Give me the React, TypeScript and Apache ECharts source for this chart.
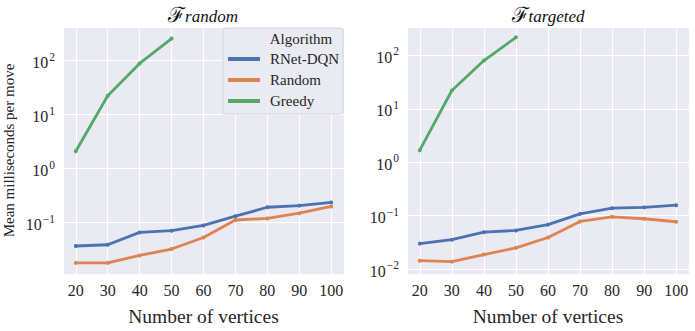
import React, { useEffect, useRef } from "react";
import * as echarts from "echarts";

const vertices = [20, 30, 40, 50, 60, 70, 80, 90, 100];
const greedyVertices = [20, 30, 40, 50];

const randomRNet = [0.037, 0.039, 0.066, 0.071, 0.089, 0.132, 0.193, 0.207, 0.237];
const randomRandom = [0.018, 0.018, 0.0247, 0.0325, 0.053, 0.112, 0.12, 0.15, 0.2];
const randomGreedy = [2.1, 22.5, 89, 257];

const targetedRNet = [0.03, 0.0355, 0.049, 0.053, 0.068, 0.108, 0.138, 0.143, 0.157];
const targetedRandom = [0.0144, 0.0138, 0.0187, 0.025, 0.039, 0.078, 0.095, 0.0875, 0.077];
const targetedGreedy = [1.68, 22, 80, 217];

const seriesNames = ["RNet-DQN", "Random", "Greedy"];
const colors = ["#4c72b0", "#dd8452", "#55a868"];

const FONT = "Liberation Serif";
const TXT = "#262626";

function pairs(xs: number[], ys: number[]) {
  return xs.map((x, i) => [x, ys[i]]);
}

export default function App() {
  const ref = useRef<HTMLDivElement>(null);
  useEffect(() => {
    if (!ref.current) return;
    const chart = echarts.init(ref.current, null, { renderer: "svg" });
    const yFormatter = (v: number) => {
      const e = Math.log10(v);
      if (Math.abs(e - Math.round(e)) > 1e-6) return "";
      const r = Math.round(e);
      return "{b|10}{s|" + (r < 0 ? "\u2212" + -r : "" + r) + "}";
    };
    const yRich = {
      b: { fontSize: 16, fontFamily: FONT, color: TXT, lineHeight: 20, verticalAlign: "bottom" as const },
      s: { fontSize: 11.5, fontFamily: FONT, color: TXT, lineHeight: 20, verticalAlign: "top" as const, padding: [0, 0, 0, 1] },
    };
    const xFormatter = (v: number) => (v % 10 === 0 && v >= 20 && v <= 100 ? String(v) : "");
    const xAxisBase = {
      type: "value" as const,
      min: 16,
      max: 104,
      splitNumber: 9,
      axisLine: { show: false },
      axisTick: { show: false },
      splitLine: { show: true, lineStyle: { color: "#ffffff", width: 1 } },
      axisLabel: { formatter: xFormatter, fontFamily: FONT, fontSize: 16, color: TXT, margin: 8 },
      name: "Number of vertices",
      nameLocation: "middle" as const,
      nameGap: 32,
      nameTextStyle: { fontFamily: FONT, fontSize: 19.5, color: TXT },
    };
    const yAxisBase = {
      type: "log" as const,
      logBase: 10,
      axisLine: { show: false },
      axisTick: { show: false },
      splitLine: { show: true, lineStyle: { color: "#ffffff", width: 1 } },
      axisLabel: { formatter: yFormatter, rich: yRich, fontFamily: FONT, margin: 8 },
    };
    const mk = (name: string, idx: number, data: number[][], color: string) => ({
      type: "line" as const,
      name,
      xAxisIndex: idx,
      yAxisIndex: idx,
      data,
      color,
      lineStyle: { color, width: 2.8 },
      itemStyle: { color },
      symbol: "circle",
      symbolSize: 4,
      showSymbol: true,
      z: 2,
    });
    const titleRich = {
      f: { fontFamily: "DejaVu Serif", fontSize: 21, fill: "#111", lineHeight: 22, verticalAlign: "bottom" as const },
      s: { fontFamily: FONT, fontStyle: "italic", fontSize: 17, fill: "#111", lineHeight: 22, verticalAlign: "bottom" as const },
    };
    chart.setOption({
      animation: false,
      backgroundColor: "#ffffff",
      textStyle: { fontFamily: FONT },
      grid: [
        { left: 62, right: 351, top: 27, bottom: 48, backgroundColor: "#eaeaf2", show: true, borderWidth: 0 },
        { left: 407, right: 6, top: 27, bottom: 48, backgroundColor: "#eaeaf2", show: true, borderWidth: 0 },
      ],
      xAxis: [
        { ...xAxisBase, gridIndex: 0 },
        { ...xAxisBase, gridIndex: 1 },
      ],
      yAxis: [
        {
          ...yAxisBase,
          gridIndex: 0,
          min: 0.0112,
          max: 421,
          name: "Mean milliseconds per move",
          nameLocation: "middle" as const,
          nameGap: 47,
          nameTextStyle: { fontFamily: FONT, fontSize: 15, color: TXT },
        },
        { ...yAxisBase, gridIndex: 1, min: 0.0081, max: 339 },
      ],
      legend: {
        data: seriesNames,
        orient: "vertical",
        left: 228,
        top: 49,
        z: 10,
        itemWidth: 32,
        itemHeight: 4,
        itemGap: 1,
        icon: "rect",
        padding: 0,
        textStyle: { fontFamily: FONT, fontSize: 15, color: TXT, lineHeight: 20, padding: [0, 0, 0, 5] },
      },
      graphic: [
        {
          type: "rect",
          z: 8,
          shape: { x: 223, y: 28, width: 120, height: 86, r: 3 },
          style: { fill: "rgba(234,234,242,0.85)", stroke: "#d4d4dc", lineWidth: 1 },
        },
        {
          type: "text",
          z: 9,
          x: 301,
          y: 39,
          style: { text: "Algorithm", fontFamily: FONT, fontSize: 15, fill: TXT, align: "center", verticalAlign: "middle" },
        },
        {
          type: "text",
          x: 203,
          y: 25,
          style: { text: "{f|\u2131}{s|random}", align: "center", verticalAlign: "bottom", rich: titleRich },
        },
        {
          type: "text",
          x: 548,
          y: 25,
          style: { text: "{f|\u2131}{s|targeted}", align: "center", verticalAlign: "bottom", rich: titleRich },
        },
      ],
      series: [
        mk(seriesNames[0], 0, pairs(vertices, randomRNet), colors[0]),
        mk(seriesNames[1], 0, pairs(vertices, randomRandom), colors[1]),
        mk(seriesNames[2], 0, pairs(greedyVertices, randomGreedy), colors[2]),
        mk(seriesNames[0], 1, pairs(vertices, targetedRNet), colors[0]),
        mk(seriesNames[1], 1, pairs(vertices, targetedRandom), colors[1]),
        mk(seriesNames[2], 1, pairs(greedyVertices, targetedGreedy), colors[2]),
      ],
    });
    return () => chart.dispose();
  }, []);
  return <div ref={ref} style={{ width: 695, height: 331, position: "absolute", left: 0, top: 0 }} />;
}
